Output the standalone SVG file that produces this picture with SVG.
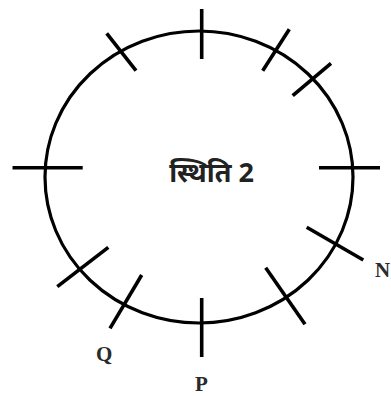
<svg xmlns="http://www.w3.org/2000/svg" width="391" height="396" viewBox="0 0 391 396">
<style>
.c{fill:none;stroke:#000;stroke-width:3.2}
.t{stroke:#000;stroke-width:3.6;stroke-linecap:butt}
.lbl{font-family:"Liberation Serif",serif;font-weight:bold;font-size:21px;fill:#2a2a2a}
.title{font-family:"Noto Sans","Noto Sans Devanagari",sans-serif;font-weight:bold;font-size:27px;fill:#222}
</style>
<rect width="391" height="396" fill="#fff"/>
<g id="circle">
<ellipse class="c" cx="199" cy="177" rx="154" ry="146"/>
</g>
<g id="ticks">
<line class="t" x1="201.7" y1="9" x2="201.7" y2="59"/>
<line class="t" x1="201.7" y1="298" x2="201.7" y2="357"/>
<line class="t" x1="12.5" y1="167.7" x2="82.7" y2="167.7"/>
<line class="t" x1="319" y1="167.7" x2="380" y2="167.7"/>
<line class="t" x1="106.7" y1="33.3" x2="136" y2="70.7"/>
<line class="t" x1="289.3" y1="29.3" x2="262.7" y2="70.7"/>
<line class="t" x1="331" y1="63.3" x2="292.7" y2="95.7"/>
<line class="t" x1="306.7" y1="227.3" x2="363.3" y2="260"/>
<line class="t" x1="265.7" y1="267.7" x2="305" y2="324.3"/>
<line class="t" x1="108.3" y1="247.3" x2="57.3" y2="286.7"/>
<line class="t" x1="141.7" y1="275" x2="110" y2="328.3"/>
</g>
<g id="title"><text class="title" x="211.5" y="182" text-anchor="middle">स्थिति 2</text></g>
<g id="labelN"><text class="lbl" x="375" y="277">N</text></g>
<g id="labelQ"><text class="lbl" x="96" y="361">Q</text></g>
<g id="labelP"><text class="lbl" x="195" y="391">P</text></g>
</svg>
